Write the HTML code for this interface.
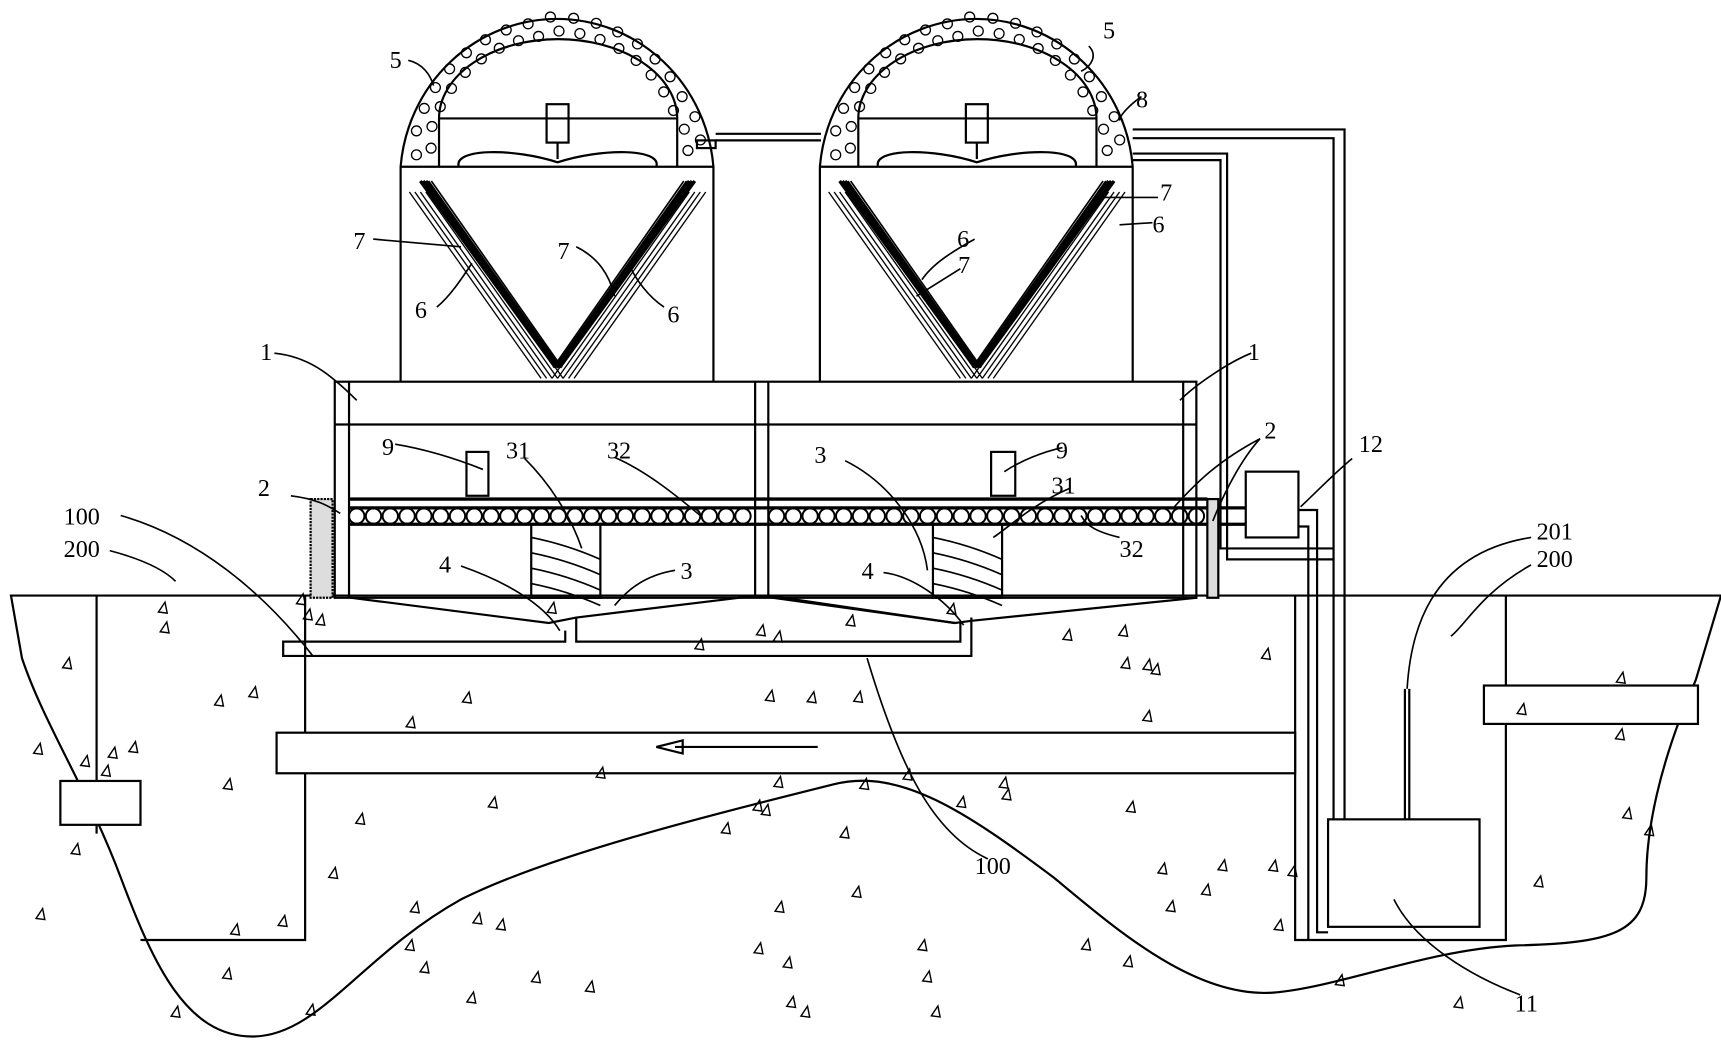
<!DOCTYPE html>
<html><head><meta charset="utf-8"><style>
html,body{margin:0;padding:0;background:#fff;width:1721px;height:1042px;overflow:hidden}
svg{display:block}
text{font-family:"Liberation Serif",serif;font-size:22px;fill:#000}
</style></head><body>
<svg id="s" width="1721" height="1042" viewBox="0 0 1568 950" preserveAspectRatio="none" xmlns="http://www.w3.org/2000/svg">
<g fill="none" stroke="#000" stroke-width="2">
<path d="M10,543 L1568,543 L1545,620 C1510,700 1500,760 1500,800 C1500,850 1470,860 1380,862 C1300,866 1220,900 1160,905 C1090,910 1020,850 960,800 C880,740 820,700 760,715 C640,745 500,780 420,820 C330,870 290,945 230,945 C170,945 140,880 110,800 C80,720 40,660 20,600 Z"/>
<line x1="88" y1="543" x2="88" y2="760"/>
<rect x="55" y="712" width="73" height="40" fill="#fff"/>
<polyline points="278,543 278,857 128,857"/>
<polyline points="1180,543 1180,857 1372,857 1372,543"/>
<rect x="1352" y="625" width="195" height="35" fill="#fff"/>
<rect x="252" y="668" width="928" height="37" fill="#fff"/>
<line x1="615" y1="681" x2="745" y2="681"/>
<path d="M598,681 L622,675 L622,687 Z"/>
<polyline points="515,575 515,585 258,585 258,598 885,598 885,563"/>
<polyline points="525,563 525,585 875,585 875,568"/>
<polyline points="320,545 500,568 525,563 690,543 870,568"/>
<polyline points="700,543 870,568"/>
<line x1="870" y1="568" x2="885" y2="566"/>
<line x1="1090" y1="545" x2="885" y2="566"/>
<rect x="305" y="348" width="785" height="197"/>
<line x1="305" y1="387" x2="1090" y2="387"/>
<line x1="318" y1="348" x2="318" y2="545"/>
<line x1="1078" y1="348" x2="1078" y2="545"/>
<line x1="688" y1="348" x2="688" y2="545"/>
<line x1="700" y1="348" x2="700" y2="545"/>
<line x1="318" y1="455" x2="1100" y2="455" stroke-width="3"/>
<line x1="318" y1="463" x2="1135" y2="463" stroke-width="3"/>
<line x1="318" y1="478" x2="1135" y2="478" stroke-width="3"/>
<rect x="425" y="412" width="20" height="40"/>
<rect x="903" y="412" width="22" height="40"/>
<rect x="484" y="478" width="63" height="67"/>
<rect x="850" y="478" width="63" height="67"/>
<rect x="283" y="455" width="20" height="90" fill="#ddd" stroke-dasharray="2 1"/>
<rect x="1100" y="455" width="10" height="90" fill="#ddd"/>
<rect x="1135" y="430" width="48" height="60" fill="#fff"/>
<polyline points="652,122 748,122"/><polyline points="652,128 748,128"/>
<rect x="635" y="128" width="17" height="7"/>
<polyline points="1032,118 1225,118 1225,840 1210,840"/>
<polyline points="1032,126 1215,126 1215,840"/>
<polyline points="1032,140 1118,140 1118,510 1215,510"/>
<polyline points="1032,146 1112,146 1112,500 1215,500"/>
<polyline points="1183,465 1200,465 1200,850 1210,850"/>
<polyline points="1183,480 1192,480 1192,857"/>
<rect x="1210" y="747" width="138" height="98" fill="#fff"/>
<line x1="1280" y1="628" x2="1280" y2="747"/><line x1="1284" y1="628" x2="1284" y2="747"/>
</g>
<g id="towers" fill="none" stroke="#000" stroke-width="2"></g>
<g id="dots" fill="none" stroke="#000" stroke-width="1.2"></g>
<g fill="none" stroke="#000" stroke-width="1.5">
<path d="M372,55 C385,58 392,68 395,78"/>
<path d="M992,42 C1000,50 995,60 985,65"/><path d="M1040,88 C1030,95 1020,105 1020,110"/>
<path d="M340,218 L420,225"/><path d="M398,280 C410,270 420,255 430,240"/>
<path d="M525,225 C545,235 555,250 560,270"/><path d="M605,280 C590,270 580,255 575,245"/>
<path d="M1055,180 L1005,180"/><path d="M1050,203 L1020,205"/>
<path d="M888,218 C870,228 850,240 840,255"/><path d="M875,245 L835,270"/>
<path d="M250,322 C280,325 300,340 325,365"/><path d="M1140,322 C1120,330 1090,350 1075,365"/>
<path d="M360,405 C390,410 420,420 440,428"/><path d="M478,418 C500,440 520,470 530,500"/>
<path d="M560,417 C590,430 620,455 638,470"/><path d="M770,420 C810,440 840,480 845,520"/>
<path d="M968,408 C950,412 930,420 915,430"/><path d="M975,445 C940,460 920,480 905,490"/>
<path d="M265,452 C290,455 300,462 310,468"/><path d="M1148,400 C1110,420 1090,440 1070,462"/>
<path d="M1148,400 C1130,420 1115,450 1105,475"/><path d="M1020,490 C1000,485 990,480 985,470"/>
<path d="M1232,418 C1215,432 1198,450 1185,462"/>
<path d="M420,516 C460,530 495,550 510,575"/><path d="M615,520 C585,525 570,540 560,552"/>
<path d="M805,522 C830,525 860,545 878,570"/><path d="M110,470 C180,490 240,540 285,598"/>
<path d="M100,502 C130,510 150,520 160,530"/><path d="M1395,490 C1300,505 1285,580 1282,628"/>
<path d="M1395,515 C1350,540 1335,570 1322,580"/><path d="M900,783 C850,760 820,700 790,600"/>
<path d="M1385,907 C1340,890 1290,860 1270,820"/>
</g>
<g>
<text x="355" y="62">5</text><text x="1005" y="35">5</text><text x="1035" y="98">8</text>
<text x="322" y="227">7</text><text x="378" y="290">6</text><text x="508" y="236">7</text><text x="608" y="294">6</text>
<text x="1057" y="183">7</text><text x="1050" y="212">6</text><text x="872" y="225">6</text><text x="873" y="249">7</text>
<text x="237" y="328">1</text><text x="1137" y="328">1</text>
<text x="348" y="415">9</text><text x="461" y="418">31</text><text x="553" y="418">32</text>
<text x="742" y="422">3</text><text x="962" y="418">9</text><text x="958" y="450">31</text>
<text x="235" y="452">2</text><text x="1152" y="400">2</text><text x="1238" y="412">12</text>
<text x="1020" y="508">32</text><text x="400" y="522">4</text><text x="620" y="528">3</text><text x="785" y="528">4</text>
<text x="58" y="478">100</text><text x="58" y="508">200</text>
<text x="1400" y="492">201</text><text x="1400" y="517">200</text>
<text x="888" y="797">100</text><text x="1380" y="922">11</text>
</g>
</svg>
<script>
var NS="http://www.w3.org/2000/svg";
function el(p,t,a){var e=document.createElementNS(NS,t);for(var k in a)e.setAttribute(k,a[k]);p.appendChild(e);return e;}
var T=document.getElementById("towers"),D=document.getElementById("dots");
[508,890].forEach(function(c){
 var L=c-143,R=c+142;
 el(T,"path",{d:"M"+L+",348 L"+L+",152 A143,147 0 0 1 "+R+",152 L"+R+",348"});
 el(T,"path",{d:"M"+(c-108)+",152 L"+(c-108)+",108 A108,72 0 0 1 "+(c+109)+",108 L"+(c+109)+",152"});
 el(T,"line",{x1:L,y1:152,x2:R,y2:152});
 el(T,"line",{x1:c-108,y1:108,x2:c+109,y2:108});
 el(T,"rect",{x:c-10,y:95,width:20,height:35});
 el(T,"line",{x1:c,y1:130,x2:c,y2:145});
 el(T,"path",{d:"M"+(c-90)+",152 C"+(c-95)+",135 "+(c-40)+",135 "+c+",148 C"+(c+40)+",135 "+(c+95)+",135 "+(c+90)+",152"});
 for(var i=0;i<5;i++){var o=i*5;
  el(T,"line",{x1:c-125-o*0.5+o,y1:165,x2:c-2+o*0.3,y2:335,"stroke-width":i<3?3:1.5});
  el(T,"line",{x1:c+125+o*0.5-o,y1:165,x2:c+2-o*0.3,y2:335,"stroke-width":i<3?3:1.5});
  el(T,"line",{x1:c-135+o,y1:175,x2:c-15+o,y2:345,"stroke-width":1.2});
  el(T,"line",{x1:c+135-o,y1:175,x2:c+15-o,y2:345,"stroke-width":1.2});
 }
 for(var a=0.12;a<3.05;a+=0.16){for(var r=0;r<2;r++){var rr=120+r*13+((a*7)%1)*4;
  el(D,"circle",{cx:c+Math.cos(a+r*0.06)*rr*0.97,cy:152-Math.sin(a+r*0.06)*rr*1.0,r:4.5});}}
});
for(var x=325;x<1095;x+=15.3){if(x>684&&x<706)continue;el(D,"circle",{cx:x,cy:470.5,r:7,"stroke-width":1.8});}
[484,850].forEach(function(x){for(var y=490;y<545;y+=14){el(D,"path",{d:"M"+x+","+y+" C"+(x+25)+","+(y+5)+" "+(x+45)+","+(y+12)+" "+(x+63)+","+(y+20),"stroke-width":1.5});}});
var seed=7;function rnd(){seed=(seed*9301+49297)%233280;return seed/233280;}
for(var n=0;n<110;n++){var x=20+rnd()*1520,y=550+rnd()*380;
 if(x>1180&&x<1372&&y<860)continue; if(x>252&&x<1180&&y>665&&y<708)continue;
 if(y>860&&(x<150||x>1400))continue;
 el(D,"path",{d:"M"+x+","+y+" l6,-9 l2,10 z","stroke-width":1.3});}
</script>
</body></html>
